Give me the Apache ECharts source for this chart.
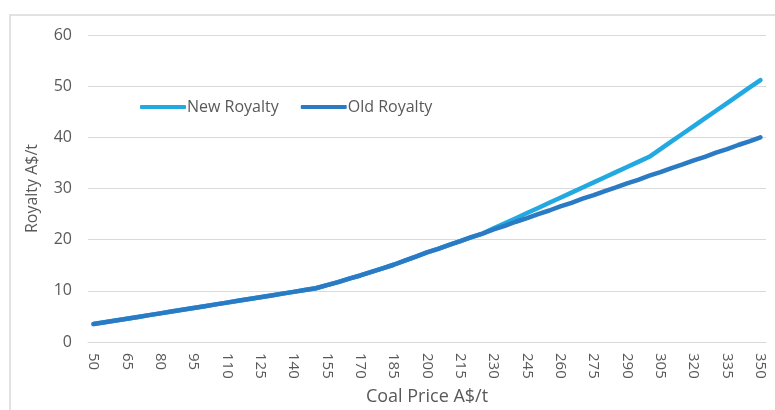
<!DOCTYPE html>
<html>
<head>
<meta charset="utf-8">
<title>Royalty vs Coal Price</title>
<script src="https://cdn.jsdelivr.net/npm/echarts@6/dist/echarts.min.js"></script>
<style>
  html, body { margin: 0; padding: 0; background: #fff; }
  #chart { width: 775px; height: 410px; }
</style>
</head>
<body>
<div id="chart"></div>
<script>
// coal price categories (A$/t)
var prices = ['50', '55', '60', '65', '70', '75', '80', '85', '90', '95',
    '100', '105', '110', '115', '120', '125', '130', '135', '140', '145',
    '150', '155', '160', '165', '170', '175', '180', '185', '190', '195',
    '200', '205', '210', '215', '220', '225', '230', '235', '240', '245',
    '250', '255', '260', '265', '270', '275', '280', '285', '290', '295',
    '300', '305', '310', '315', '320', '325', '330', '335', '340', '345', '350'];

// royalty A$/t
var newRoyalty = [3.5, 3.85, 4.2, 4.55, 4.9, 5.25, 5.6, 5.95, 6.3, 6.65,
    7.0, 7.35, 7.7, 8.05, 8.4, 8.75, 9.1, 9.45, 9.8, 10.15,
    10.5, 11.1, 11.7, 12.4, 13.0, 13.7, 14.4, 15.1, 15.9, 16.7,
    17.5, 18.2, 19.0, 19.7, 20.5, 21.2, 22.2, 23.2, 24.2, 25.2,
    26.2, 27.2, 28.2, 29.2, 30.2, 31.2, 32.2, 33.2, 34.2, 35.2,
    36.2, 37.7, 39.2, 40.7, 42.2, 43.7, 45.2, 46.7, 48.2, 49.7, 51.2];
var oldRoyalty = [3.5, 3.85, 4.2, 4.55, 4.9, 5.25, 5.6, 5.95, 6.3, 6.65,
    7.0, 7.35, 7.7, 8.05, 8.4, 8.75, 9.1, 9.45, 9.8, 10.15,
    10.5, 11.1, 11.7, 12.4, 13.0, 13.7, 14.4, 15.1, 15.9, 16.7,
    17.5, 18.2, 19.0, 19.7, 20.5, 21.2, 22.0, 22.7, 23.5, 24.2,
    25.0, 25.7, 26.5, 27.2, 28.0, 28.7, 29.5, 30.2, 31.0, 31.7,
    32.5, 33.2, 34.0, 34.7, 35.5, 36.2, 37.0, 37.7, 38.5, 39.2, 40.0];

var yTicks = [0, 60, 10]; // min, max, step

var textColor = '#595959';
var gridColor = '#d9d9d9';
var fontName = 'Open Sans';

var chart = echarts.init(document.getElementById('chart'));
var option = {
    backgroundColor: '#fff',
    animation: false,
    textStyle: { fontFamily: fontName },
    graphic: [{
        type: 'rect',
        shape: { x: 10, y: 15, width: 800, height: 420 },
        style: { fill: 'none', stroke: gridColor, lineWidth: 1.5 },
        silent: true
    }],
    legend: {
        left: 135,
        top: 94,
        itemWidth: 46,
        itemHeight: 4,
        itemGap: 22,
        icon: 'roundRect',
        textStyle: { color: textColor, fontSize: 16, fontFamily: fontName, padding: [0, 0, 0, -4] },
        data: ['New Royalty', 'Old Royalty']
    },
    grid: {
        left: 88,
        right: 9,
        top: 35,
        bottom: 68,
        outerBoundsMode: 'none'
    },
    xAxis: {
        type: 'category',
        data: prices,
        boundaryGap: true,
        name: 'Coal Price A$/t',
        nameLocation: 'middle',
        nameGap: 46,
        nameTextStyle: { color: textColor, fontSize: 18, fontFamily: fontName },
        axisLine: { show: true, lineStyle: { color: gridColor, width: 1 } },
        axisTick: { show: false },
        axisLabel: {
            interval: 2,
            rotate: -90,
            margin: 11,
            color: textColor,
            fontSize: 15,
            fontFamily: fontName
        },
        splitLine: { show: false }
    },
    yAxis: {
        type: 'value',
        min: yTicks[0],
        max: yTicks[1],
        interval: yTicks[2],
        name: 'Royalty A$/t',
        nameLocation: 'middle',
        nameGap: 48,
        nameTextStyle: { color: textColor, fontSize: 16, fontFamily: fontName },
        axisLine: { show: false },
        axisTick: { show: false },
        axisLabel: { color: textColor, fontSize: 16, margin: 16, fontFamily: fontName },
        splitLine: { lineStyle: { color: gridColor, width: 1 } }
    },
    series: [{
        name: 'New Royalty',
        type: 'line',
        data: newRoyalty,
        showSymbol: false,
        symbol: 'none',
        smooth: false,
        itemStyle: { color: '#22a9e1' },
        lineStyle: { color: '#22a9e1', width: 4.5, cap: 'round', join: 'round' }
    }, {
        name: 'Old Royalty',
        type: 'line',
        data: oldRoyalty,
        showSymbol: false,
        symbol: 'none',
        smooth: false,
        itemStyle: { color: '#2a7bc4' },
        lineStyle: { color: '#2a7bc4', width: 4.5, cap: 'round', join: 'round' }
    }]
};
chart.setOption(option);
</script>
</body>
</html>
